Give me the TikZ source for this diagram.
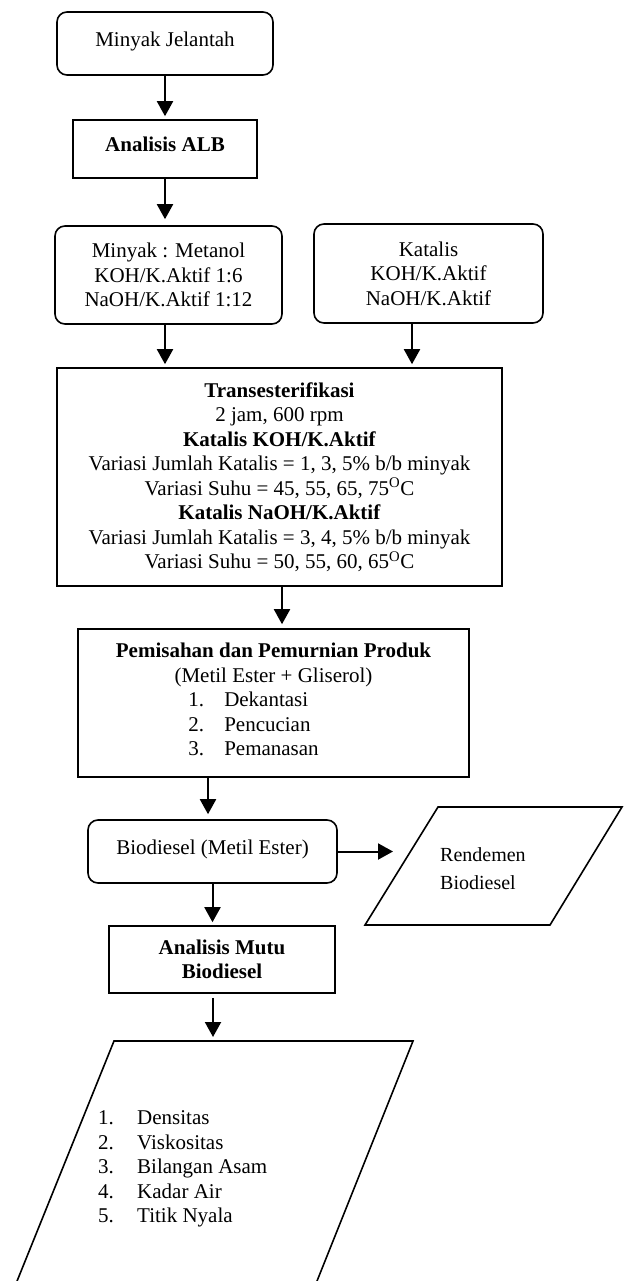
\documentclass[tikz,border=0pt]{standalone}
\usepackage{fontspec}
\setmainfont{Liberation Serif}
\usepackage{array}
\usetikzlibrary{arrows.meta, positioning}
\tikzset{
  % Process box
  pbox/.style={
    rectangle, draw=black, line width=1.6pt,
    align=center, inner sep=0pt
  },
  % Rounded variant
  rbox/.style={pbox, rounded corners=10pt},
  % One line of text sitting high in its box
  hightext/.style={text height=17pt, text depth=11pt},
  % Output shape outline
  iobox/.style={draw=black, line width=1.6pt, line join=miter},
  % Text inside the output shapes
  iotext/.style={anchor=west, inner sep=0pt, align=left},
  % Arrows
  arr/.style={-{Triangle[length=15pt,width=16pt]}, line width=2pt, shorten >=3pt},
}

\begin{document}
\begin{tikzpicture}[x=1pt, y=-1pt, font=\fontsize{21}{24.5}\selectfont]
  \useasboundingbox (0,0) rectangle (624,1281);

  %% Raw material and first analysis
  \node[rbox, hightext, minimum width=216pt, minimum height=63pt] (mj) at (165,43.5) {Minyak Jelantah};
  \node[pbox, hightext, minimum width=184pt, minimum height=58pt] (alb) at (165,149) {\textbf{Analisis ALB}};

  %% Inputs of the reaction
  \node[rbox, minimum width=227pt, minimum height=98pt] (mm) at (168.5,275)
    {Minyak : Metanol\\KOH/K.Aktif 1:6\\NaOH/K.Aktif 1:12};
  \node[rbox, minimum width=229pt, minimum height=99pt] (kat) at (428.5,273.5)
    {Katalis\\KOH/K.Aktif\\NaOH/K.Aktif};

  %% Reaction
  \node[pbox, minimum width=445pt, minimum height=218pt] (trans) at (279.5,477)
    {\textbf{Transesterifikasi}\\
     2 jam, 600 rpm\\
     \textbf{Katalis KOH/K.Aktif}\\
     Variasi Jumlah Katalis = 1, 3, 5\% b/b minyak\\
     Variasi Suhu = 45, 55, 65, 75\textsuperscript{O}C\\
     \textbf{Katalis NaOH/K.Aktif}\\
     Variasi Jumlah Katalis = 3, 4, 5\% b/b minyak\\
     Variasi Suhu = 50, 55, 60, 65\textsuperscript{O}C};

  %% Separation and purification
  \node[pbox, minimum width=391pt, minimum height=148pt] (pem) at (273.5,703)
    {\textbf{Pemisahan dan Pemurnian Produk}\\
     (Metil Ester + Gliserol)\\
     \hspace*{-40pt}\begin{tabular}[t]{@{}p{36pt}@{}l@{}}
       1. & Dekantasi\\
       2. & Pencucian\\
       3. & Pemanasan
     \end{tabular}};

  %% Product
  \node[rbox, hightext, minimum width=249pt, minimum height=63pt] (bio) at (212.5,851.5) {Biodiesel (Metil Ester)};
  \node[pbox, minimum width=226pt, minimum height=67pt] (mutu) at (222,959.5)
    {\textbf{Analisis Mutu}\\\textbf{Biodiesel}};

  %% Yield output
  \draw[iobox] (365,925) -- (438,807) -- (622,807) -- (550,925) -- cycle;
  \node[iotext, font=\fontsize{20}{28}\selectfont] (rd) at (440,869) {Rendemen\\Biodiesel};
  \coordinate (rdin) at (396,851.5);

  %% Quality output
  \draw[iobox] (9.4,1300) -- (114,1041) -- (413,1041) -- (309.4,1300);
  \node[iotext] (uji) at (98,1169)
    {\begin{tabular}{@{}p{39pt}@{}l@{}}
       1. & Densitas\\
       2. & Viskositas\\
       3. & Bilangan Asam\\
       4. & Kadar Air\\
       5. & Titik Nyala
     \end{tabular}};
  \coordinate (hasil) at (213,1041);

  %% Flow
  \draw[arr] (mj) -- (alb);
  \draw[arr, shorten >=6pt] (alb) -- (alb |- mm.north);
  \draw[arr] (mm.south -| alb) -- (trans.north -| alb);
  \draw[arr] ([xshift=-16.5pt]kat.south) -- ([xshift=-16.5pt]kat.south |- trans.north);
  \draw[arr, shorten >=4pt] ([xshift=2.5pt]trans.south) -- ([xshift=2.5pt]trans.south |- pem.north);
  \draw[arr, shorten >=5pt] ([xshift=-4.5pt]bio.north |- pem.south) -- ([xshift=-4.5pt]bio.north);
  \draw[arr] (bio.south) -- (bio.south |- mutu.north);
  \draw[arr, shorten >=4pt] ([yshift=-4pt]mutu.south -| hasil) -- (hasil);
  \draw[arr] (bio.east) -- (bio.east -| rdin);

\end{tikzpicture}
\end{document}
